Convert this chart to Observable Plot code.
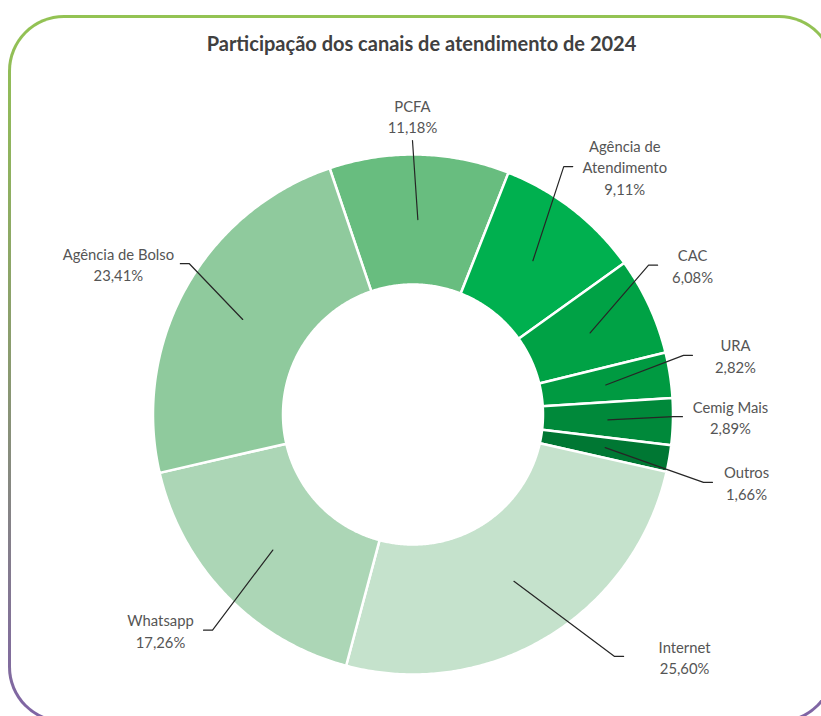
<!DOCTYPE html>
<html>
<head>
<meta charset="utf-8">
<script src="https://cdn.jsdelivr.net/npm/d3@7"></script>
<script src="https://cdn.jsdelivr.net/npm/@observablehq/plot@0.6"></script>
<style>
  body { margin: 0; background: #fff; }
  #wrap { position: relative; width: 821px; height: 716px; overflow: hidden; font-family: Lato, "Noto Sans", sans-serif; }
  #frame { position: absolute; left: 8px; top: 15px; width: 827px; height: 708px; box-sizing: border-box;
           border: 3px solid transparent; border-radius: 56px;
           background: linear-gradient(#fff, #fff) padding-box, linear-gradient(to bottom, #93c353, #8a9a70 50%, #7f63a6) border-box; }
  #chart { position: absolute; left: 0; top: 0; }
  #title { position: absolute; top: 31px; left: 11px; width: 821px; text-align: center; font-weight: 700; font-size: 20px; color: #404040; }
</style>
</head>
<body>
<div id="wrap">
  <div id="frame"></div>
  <div id="chart"></div>
  <div id="title">Participação dos canais de atendimento de 2024</div>
</div>
<script>
// ---- data ----
const categories = ["PCFA", "Agência de Atendimento", "CAC", "URA", "Cemig Mais", "Outros", "Internet", "Whatsapp", "Agência de Bolso"];
const labelNames = ["PCFA", "Agência de\nAtendimento", "CAC", "URA", "Cemig Mais", "Outros", "Internet", "Whatsapp", "Agência de Bolso"];
const shares = [11.18, 9.11, 6.08, 2.82, 2.89, 1.66, 25.60, 17.26, 23.41];
const colors = ["#68bd7f", "#00b04f", "#00a245", "#009a41", "#00893a", "#007733", "#c5e2cc", "#acd6b6", "#8fca9d"];

// ---- layout (label placement: angle deg clockwise from 12 o'clock, radius x outer radius, leader tick end offset px) ----
const labelLayout = [
  { a: -0.1, r: 1.150, dx: 0 },
  { a: 40.5, r: 1.254, dx: -52 },
  { a: 61.9, r: 1.219, dx: -35 },
  { a: 79.6, r: 1.261, dx: -43 },
  { a: 90.4, r: 1.221, dx: -48 },
  { a: 101.5, r: 1.309, dx: -34 },
  { a: 131.7, r: 1.399, dx: -61 },
  { a: 229.5, r: 1.277, dx: 43 },
  { a: 297.1, r: 1.273, dx: 62 }
];

const W = 821, H = 716;
const R = 260;            // outer radius px
const cx = 412.5, cy = 414;
const inner = 0.5;
const start = -18.7 * Math.PI / 180;

const data = categories.map((name, i) => ({ name, share: shares[i], label: labelNames[i] + "\n" + shares[i].toFixed(2).replace(".", ",") + "%" }));
const arcs = d3.pie().sort(null).value(d => d.share).startAngle(start).endAngle(start + 2 * Math.PI)(data);

const slicePts = arcs.flatMap(arc => {
  const a0 = arc.startAngle, a1 = arc.endAngle;
  const n = Math.max(2, Math.ceil((a1 - a0) / (Math.PI / 360)));
  const pts = [];
  for (let i = 0; i <= n; i++) { const t = a0 + (a1 - a0) * i / n; pts.push({ name: arc.data.name, x: Math.sin(t), y: Math.cos(t) }); }
  for (let i = n; i >= 0; i--) { const t = a0 + (a1 - a0) * i / n; pts.push({ name: arc.data.name, x: inner * Math.sin(t), y: inner * Math.cos(t) }); }
  pts.push(pts[0]);
  return pts;
});

const labels = arcs.map((arc, i) => {
  const L = labelLayout[i];
  const a = L.a * Math.PI / 180;
  return { name: arc.data.name, text: arc.data.label, x: L.r * Math.sin(a), y: L.r * Math.cos(a) };
});

const leaders = arcs.flatMap((arc, i) => {
  const L = labelLayout[i], lab = labels[i];
  const mid = (arc.startAngle + arc.endAngle) / 2;
  const rc = (1 + inner) / 2;
  const p0 = { name: arc.data.name, x: rc * Math.sin(mid), y: rc * Math.cos(mid) };
  if (L.dx === 0) {
    return [p0, { name: arc.data.name, x: lab.x, y: lab.y - 25 / R }];
  }
  const ex = lab.x + L.dx / R;
  const sx = ex + (L.dx < 0 ? -9 : 9) / R;
  const ey = lab.y;
  return [p0, { name: arc.data.name, x: sx, y: ey }, { name: arc.data.name, x: ex, y: ey }];
});

const chart = Plot.plot({
  width: W, height: H, margin: 0,
  x: { domain: [-cx / R, (W - cx) / R], axis: null },
  y: { domain: [-(H - cy) / R, cy / R], axis: null },
  color: { domain: categories, range: colors },
  style: { background: "transparent", fontFamily: "Lato, 'Noto Sans', sans-serif" },
  marks: [
    Plot.line(slicePts, { x: "x", y: "y", z: "name", fill: "name", stroke: "white", strokeWidth: 2.5, strokeLinejoin: "round", curve: "linear" }),
    Plot.line(leaders, { x: "x", y: "y", z: "name", stroke: "#262626", strokeWidth: 1.2, curve: "linear" }),
    Plot.text(labels, { x: "x", y: "y", text: "text", fill: "#555555", fontSize: 14.8, lineHeight: 1.45 })
  ]
});
document.getElementById("chart").appendChild(chart);
</script>
</body>
</html>
